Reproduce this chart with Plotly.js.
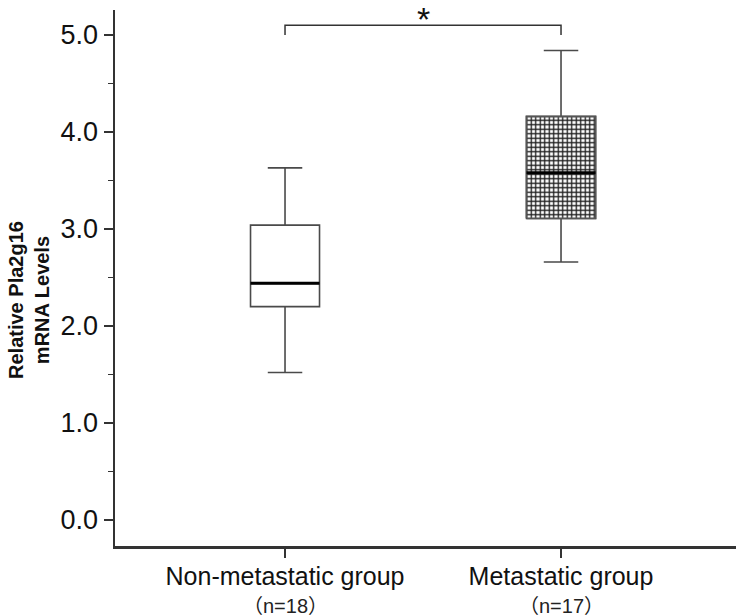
<!DOCTYPE html>
<html>
<head>
<meta charset="utf-8">
<script src="https://cdn.plot.ly/plotly-3.0.1.min.js"></script>
<style>html,body{margin:0;padding:0;background:#fff;}#chart{width:736px;height:616px;}</style>
</head>
<body>
<div id="chart"></div>
<script>
// ---- data ----
const categories = ['Non-metastatic group', 'Metastatic group'];
const groupN = ['（n=18）', '（n=17）'];
const lowerWhisker = [1.52, 2.66];
const q1 = [2.20, 3.11];
const medians = [2.44, 3.58];
const q3 = [3.04, 4.16];
const upperWhisker = [3.63, 4.84];
const hatched = [false, true];
const sigBracketY = [5.0, 5.1, 5.1, 5.0];
const sigLabel = '*';
const yTicks = [0, 1, 2, 3, 4, 5];

const font = 'Liberation Sans, Arial, sans-serif';
const boxWidth = 0.25;
const pos = categories.map((c, i) => i);

const traces = [
  {
    type: 'box',
    x: pos,
    q1: q1,
    median: medians,
    q3: q3,
    lowerfence: lowerWhisker,
    upperfence: upperWhisker,
    width: boxWidth,
    whiskerwidth: 0.5,
    fillcolor: 'rgba(0,0,0,0)',
    line: {color: '#4a4a4a', width: 1.6},
    boxpoints: false,
    showlegend: false
  }
];

// checkered fill for the hatched group(s), drawn from the quartiles
pos.forEach((p, i) => {
  if (!hatched[i]) return;
  const x0 = p - boxWidth / 2, x1 = p + boxWidth / 2;
  traces.push({
    type: 'scatter',
    mode: 'lines',
    x: [x0, x1, x1, x0, x0],
    y: [q1[i], q1[i], q3[i], q3[i], q1[i]],
    fill: 'toself',
    fillcolor: '#8a8a8a',
    fillpattern: {shape: '+', fgcolor: '#1e1e1e', bgcolor: '#ffffff', size: 4.5, solidity: 0.5, fillmode: 'replace'},
    line: {color: '#555', width: 1.8},
    hoverinfo: 'skip',
    showlegend: false
  });
});

traces.push(
  {
    type: 'scatter',
    mode: 'markers',
    x: pos,
    y: medians,
    marker: {symbol: 'line-ew', size: 69 / 1.4, color: '#000', line: {color: '#000', width: 3}},
    hoverinfo: 'skip',
    showlegend: false
  },
  {
    type: 'scatter',
    mode: 'lines',
    x: [pos[0], pos[0], pos[1], pos[1]],
    y: sigBracketY,
    line: {color: '#333', width: 1.5},
    hoverinfo: 'skip',
    showlegend: false
  }
);

const annotations = [
  {
    x: 0.5, xref: 'x', y: 1 + 10 / 536, yref: 'paper',
    text: sigLabel, showarrow: false, yanchor: 'top', yshift: 2,
    font: {family: font, size: 34, color: '#111'}
  },
  {
    x: -0.1385, xref: 'paper', y: 0.459, yref: 'paper',
    text: '<b>Relative Pla2g16</b><br><b>mRNA Levels</b>', textangle: -90,
    showarrow: false, xanchor: 'center', yanchor: 'middle',
    font: {family: font, size: 20, color: '#111'}
  }
];
pos.forEach((p, i) => {
  annotations.push({
    x: p, xref: 'x', y: -60 / 536, yref: 'paper', text: groupN[i], showarrow: false,
    xanchor: 'center', yanchor: 'middle',
    font: {family: 'Liberation Sans, Noto Sans CJK SC, sans-serif', size: 20, color: '#222'}
  });
});

const layout = {
  width: 736, height: 616,
  margin: {l: 115, r: 0, t: 10, b: 70},
  paper_bgcolor: '#fff', plot_bgcolor: '#fff',
  showlegend: false,
  xaxis: {
    type: 'linear', range: [-0.616, 1.634],
    tickvals: pos, ticktext: categories,
    showline: true, linecolor: '#333', linewidth: 2.5,
    ticks: 'outside', ticklen: 9, tickwidth: 1.5, tickcolor: '#333',
    ticklabelstandoff: -3,
    tickfont: {family: font, size: 25, color: '#111'},
    showgrid: false, zeroline: false, fixedrange: true
  },
  yaxis: {
    range: [-0.268, 5.258],
    tickvals: yTicks, tickformat: '.1f',
    showline: true, linecolor: '#333', linewidth: 2.5,
    ticks: 'outside', ticklen: 9, tickwidth: 1.5, tickcolor: '#333',
    tickfont: {family: font, size: 27, color: '#111'},
    minor: {dtick: 0.5, ticks: 'outside', ticklen: 5, tickwidth: 1.5, tickcolor: '#333', showgrid: false},
    showgrid: false, zeroline: false, fixedrange: true
  },
  annotations: annotations
};

Plotly.newPlot('chart', traces, layout, {displayModeBar: false, staticPlot: true});
</script>
</body>
</html>
